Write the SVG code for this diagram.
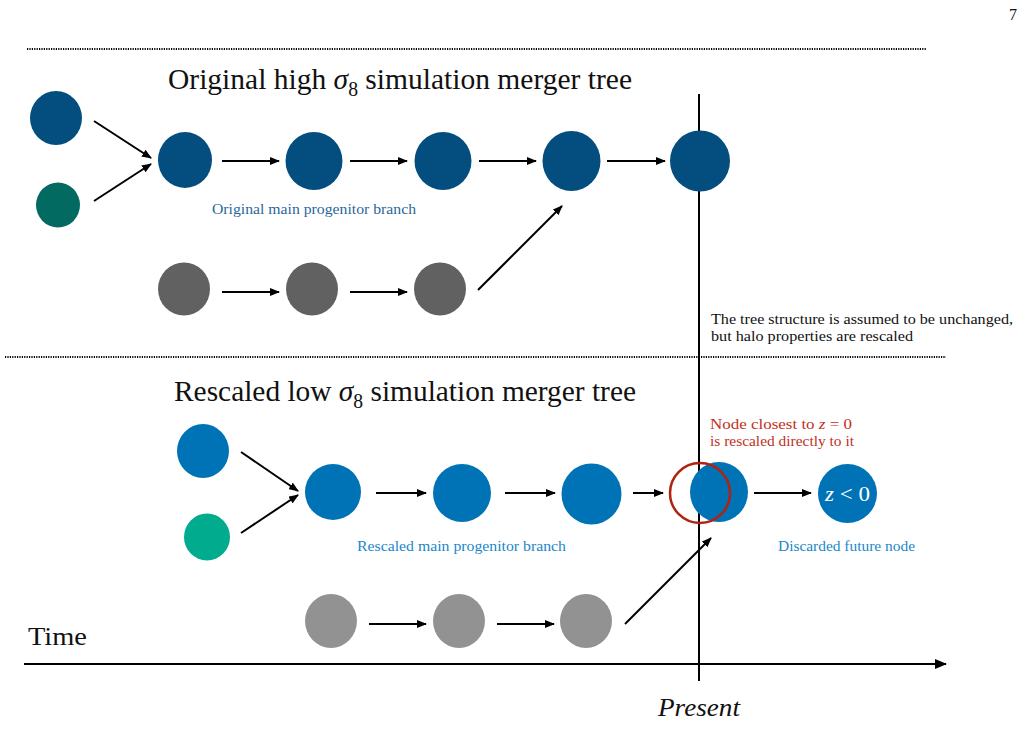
<svg xmlns="http://www.w3.org/2000/svg" width="1026" height="743" viewBox="0 0 1026 743">
<style>
.t{font-family:"Liberation Serif","Times New Roman",serif;}
.title{font-size:30px;fill:#111;}
.small{font-size:15px;}
.lbl{font-size:14.5px;}
.con{stroke:#000;stroke-width:2;fill:none;}
.dot{stroke:#000;stroke-width:2;stroke-dasharray:1.2 1.2;fill:none;}
.dk{fill:#034E7E;}
.tealdk{fill:#036A61;}
.gdk{fill:#616161;}
.bl{fill:#0072B6;}
.tealbl{fill:#00AB8E;}
.glt{fill:#929292;}
</style>
<defs>
<marker id="ah" markerWidth="10" markerHeight="8" refX="9" refY="4" orient="auto" markerUnits="userSpaceOnUse">
<path d="M0,0 L10,4 L0,8 Z" fill="#000"/>
</marker>
<marker id="ah2" markerWidth="12" markerHeight="10" refX="11" refY="5" orient="auto" markerUnits="userSpaceOnUse">
<path d="M0,0 L12,5 L0,10 Z" fill="#000"/>
</marker>
</defs>
<rect width="1026" height="743" fill="#fff"/>

<text class="t" x="1009" y="20" font-size="16" fill="#111">7</text>

<g id="separators">
<line class="dot" x1="27" y1="49" x2="927" y2="49"/>
<line class="dot" x1="5" y1="357" x2="946" y2="357"/>
</g>

<g id="titles">
<text class="t title" x="168" y="89" textLength="464" lengthAdjust="spacingAndGlyphs">Original high <tspan font-style="italic">σ</tspan><tspan font-size="20" dy="7">8</tspan><tspan dy="-7"> simulation merger tree</tspan></text>
<text class="t title" x="174" y="401" textLength="462" lengthAdjust="spacingAndGlyphs">Rescaled low <tspan font-style="italic">σ</tspan><tspan font-size="20" dy="7">8</tspan><tspan dy="-7"> simulation merger tree</tspan></text>
</g>

<g id="axes">
<line class="con" x1="699" y1="94" x2="699" y2="681"/>
<line class="con" x1="24" y1="664" x2="946" y2="664" marker-end="url(#ah2)"/>
<text class="t" x="28" y="645" font-size="26" fill="#111" textLength="59" lengthAdjust="spacingAndGlyphs">Time</text>
<text class="t" x="658" y="716" font-size="26" font-style="italic" fill="#111" textLength="82" lengthAdjust="spacingAndGlyphs">Present</text>
</g>

<g id="connectors">
<line class="con" x1="94" y1="121" x2="151" y2="158" marker-end="url(#ah)"/>
<line class="con" x1="94" y1="201" x2="151" y2="164" marker-end="url(#ah)"/>
<line class="con" x1="222" y1="161" x2="279" y2="161" marker-end="url(#ah)"/>
<line class="con" x1="350" y1="161" x2="407" y2="161" marker-end="url(#ah)"/>
<line class="con" x1="479" y1="161" x2="536" y2="161" marker-end="url(#ah)"/>
<line class="con" x1="607" y1="161" x2="665" y2="161" marker-end="url(#ah)"/>
<line class="con" x1="222" y1="292" x2="279" y2="292" marker-end="url(#ah)"/>
<line class="con" x1="350" y1="292" x2="407" y2="292" marker-end="url(#ah)"/>
<line class="con" x1="478" y1="290" x2="562" y2="206" marker-end="url(#ah)"/>

<line class="con" x1="241" y1="452" x2="298" y2="491" marker-end="url(#ah)"/>
<line class="con" x1="241" y1="533" x2="298" y2="495" marker-end="url(#ah)"/>
<line class="con" x1="376" y1="493" x2="426" y2="493" marker-end="url(#ah)"/>
<line class="con" x1="505" y1="493" x2="555" y2="493" marker-end="url(#ah)"/>
<line class="con" x1="633" y1="493" x2="663" y2="493" marker-end="url(#ah)"/>
<line class="con" x1="754" y1="493" x2="811" y2="493" marker-end="url(#ah)"/>
<line class="con" x1="369" y1="624" x2="426" y2="624" marker-end="url(#ah)"/>
<line class="con" x1="497" y1="624" x2="554" y2="624" marker-end="url(#ah)"/>
<line class="con" x1="625" y1="624" x2="711" y2="538" marker-end="url(#ah)"/>
</g>

<g id="orig-prog-a"><ellipse class="dk" cx="56" cy="118" rx="26" ry="27"/></g>
<g id="orig-prog-b"><ellipse class="tealdk" cx="58" cy="205" rx="22" ry="22.5"/></g>
<g id="orig-main-1"><ellipse class="dk" cx="185" cy="160" rx="27" ry="28"/></g>
<g id="orig-main-2"><ellipse class="dk" cx="314" cy="161" rx="28.5" ry="29"/></g>
<g id="orig-main-3"><ellipse class="dk" cx="443" cy="161" rx="28.5" ry="29"/></g>
<g id="orig-main-4"><ellipse class="dk" cx="571.5" cy="161" rx="29" ry="30"/></g>
<g id="orig-main-5"><ellipse class="dk" cx="700" cy="161" rx="30" ry="30.5"/></g>
<g id="orig-side-1"><ellipse class="gdk" cx="184" cy="289" rx="26" ry="26.5"/></g>
<g id="orig-side-2"><ellipse class="gdk" cx="312" cy="289" rx="26" ry="26.5"/></g>
<g id="orig-side-3"><ellipse class="gdk" cx="440" cy="289" rx="26" ry="26.5"/></g>
<g id="orig-label"><text class="t lbl" x="212" y="214" fill="#2A679A" textLength="204" lengthAdjust="spacingAndGlyphs">Original main progenitor branch</text></g>

<g id="note"><text class="t small" x="711" y="324" fill="#111" textLength="302" lengthAdjust="spacingAndGlyphs">The tree structure is assumed to be unchanged,</text>
<text class="t small" x="711" y="341" fill="#111" textLength="202" lengthAdjust="spacingAndGlyphs">but halo properties are rescaled</text></g>

<g id="res-prog-a"><ellipse class="bl" cx="203" cy="451" rx="26" ry="27"/></g>
<g id="res-prog-b"><ellipse class="tealbl" cx="207" cy="537" rx="23" ry="23.5"/></g>
<g id="res-main-1"><ellipse class="bl" cx="333" cy="492" rx="28" ry="28"/></g>
<g id="res-main-2"><ellipse class="bl" cx="462" cy="493" rx="29" ry="29"/></g>
<g id="res-main-3"><ellipse class="bl" cx="591.5" cy="494" rx="30" ry="30.5"/></g>
<g id="res-present"><ellipse class="bl" cx="719" cy="492" rx="29" ry="30"/>
<circle cx="700" cy="493" r="30" fill="none" stroke="#B0230F" stroke-width="2.5"/></g>
<g id="res-future"><circle class="bl" cx="847.5" cy="493.5" r="29.5"/>
<text class="t" x="825" y="501" font-size="22" fill="#fff" textLength="45" lengthAdjust="spacingAndGlyphs"><tspan font-style="italic">z</tspan> &lt; 0</text></g>
<g id="res-side-1"><ellipse class="glt" cx="331" cy="621" rx="26" ry="27"/></g>
<g id="res-side-2"><ellipse class="glt" cx="459" cy="621" rx="26" ry="27"/></g>
<g id="res-side-3"><ellipse class="glt" cx="586" cy="621" rx="26" ry="27"/></g>
<g id="res-labels">
<text class="t lbl" x="357" y="551" fill="#1A87C8" textLength="209" lengthAdjust="spacingAndGlyphs">Rescaled main progenitor branch</text>
<text class="t lbl" x="778" y="551" fill="#1A87C8" textLength="137" lengthAdjust="spacingAndGlyphs">Discarded future node</text>
<text class="t small" x="710" y="429" fill="#C0301C" textLength="142" lengthAdjust="spacingAndGlyphs">Node closest to <tspan font-style="italic">z</tspan> = 0</text>
<text class="t small" x="710" y="446" fill="#C0301C" textLength="144" lengthAdjust="spacingAndGlyphs">is rescaled directly to it</text>
</g>
</svg>
